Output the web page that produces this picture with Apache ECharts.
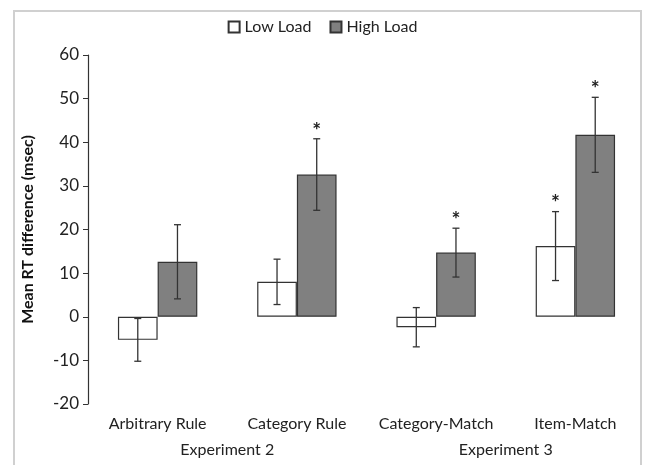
<!DOCTYPE html>
<html><head><meta charset="utf-8">
<script src="https://cdn.jsdelivr.net/npm/echarts@6/dist/echarts.min.js"></script>
<style>html,body{margin:0;padding:0;background:#fff}#c{width:645px;height:465px}</style>
</head><body><div id="c"></div>
<script>
const categories = ['Arbitrary Rule', 'Category Rule', 'Category-Match', 'Item-Match'];
const experiments = ['Experiment 2', 'Experiment 3'];
const lowLoad = [-5.3, 8.0, -2.4, 16.2];
const lowErr = [4.9, 5.2, 4.5, 7.9];
const lowSig = [0, 0, 0, 1];
const highLoad = [12.6, 32.6, 14.7, 41.7];
const highErr = [8.5, 8.2, 5.6, 8.6];
const highSig = [0, 1, 1, 1];
const yTicks = [-20, -10, 0, 10, 20, 30, 40, 50, 60];

const FONT = 'Lato';
const chart = echarts.init(document.getElementById('c'), null, {renderer: 'canvas'});

function errSeries(vals, errs, sigs, side) {
  return {
    type: 'custom',
    silent: true,
    z: 10,
    data: vals.map((v, i) => [i, v, errs[i], sigs[i]]),
    encode: {x: 0, y: 1},
    renderItem: function (params, api) {
      const i = api.value(0), v = api.value(1), e = api.value(2), s = api.value(3);
      const band = api.size([1, 0])[0];
      const c = api.coord([i, v]);
      const x = c[0] + side * band * 0.1425;
      const top = api.coord([i, v + e])[1];
      const bot = api.coord([i, v - e])[1];
      const st = {stroke: '#333', lineWidth: 1.3};
      const children = [
        {type: 'line', shape: {x1: x, y1: top, x2: x, y2: bot}, style: st},
        {type: 'line', shape: {x1: x - 3.5, y1: top, x2: x + 3.5, y2: top}, style: st},
        {type: 'line', shape: {x1: x - 3.5, y1: bot, x2: x + 3.5, y2: bot}, style: st}
      ];
      if (s) {
        children.push({type: 'text', style: {text: '*', x: x, y: top - 8, align: 'center', verticalAlign: 'middle', font: 'bold 21px ' + FONT, fill: '#222'}});
      }
      return {type: 'group', children: children};
    }
  };
}

chart.setOption({
  animation: false,
  backgroundColor: '#fff',
  graphic: [{type: 'rect', shape: {x: 14, y: 11, width: 627, height: 470}, style: {fill: 'none', stroke: '#d0d0d0', lineWidth: 2}, z: -10}],
  legend: {
    top: 14, left: 'center',
    itemWidth: 11, itemHeight: 11, itemGap: 18,
    icon: 'rect',
    textStyle: {fontFamily: FONT, fontSize: 16, color: '#222', padding: [0, 0, 0, 0]},
    data: ['Low Load', 'High Load']
  },
  grid: {left: 88, top: 55, width: 568, bottom: 61, containLabel: false},
  xAxis: [{
    type: 'category', data: categories, position: 'bottom',
    axisLine: {show: false}, axisTick: {show: false},
    axisLabel: {interval: 0, fontFamily: FONT, fontSize: 16, color: '#222', margin: 12}
  }, {
    type: 'category', data: experiments, position: 'bottom', offset: 26,
    axisLine: {show: false}, axisTick: {show: false},
    axisLabel: {interval: 0, fontFamily: FONT, fontSize: 16, color: '#222', margin: 12}
  }],
  yAxis: {
    type: 'value', min: yTicks[0], max: yTicks[yTicks.length - 1], interval: 10,
    axisLine: {show: true, lineStyle: {color: '#333', width: 1.2}},
    axisTick: {show: true, length: 5, lineStyle: {color: '#333'}},
    splitLine: {show: false},
    axisLabel: {fontFamily: FONT, fontSize: 17, color: '#222', margin: 9},
    name: 'Mean RT difference (msec)', nameLocation: 'middle', nameGap: 52,
    nameTextStyle: {fontFamily: FONT, fontSize: 16, fontWeight: 'bold', color: '#111'}
  },
  series: [
    {name: 'Low Load', type: 'bar', data: lowLoad, barWidth: '28.5%', barGap: '0%',
     itemStyle: {color: '#fff', borderColor: '#333', borderWidth: 1.2}},
    {name: 'High Load', type: 'bar', data: highLoad, barWidth: '28.5%', barGap: '0%',
     itemStyle: {color: '#808080', borderColor: '#333', borderWidth: 1.2}},
    errSeries(lowLoad, lowErr, lowSig, -1),
    errSeries(highLoad, highErr, highSig, 1)
  ]
});
</script></body></html>
